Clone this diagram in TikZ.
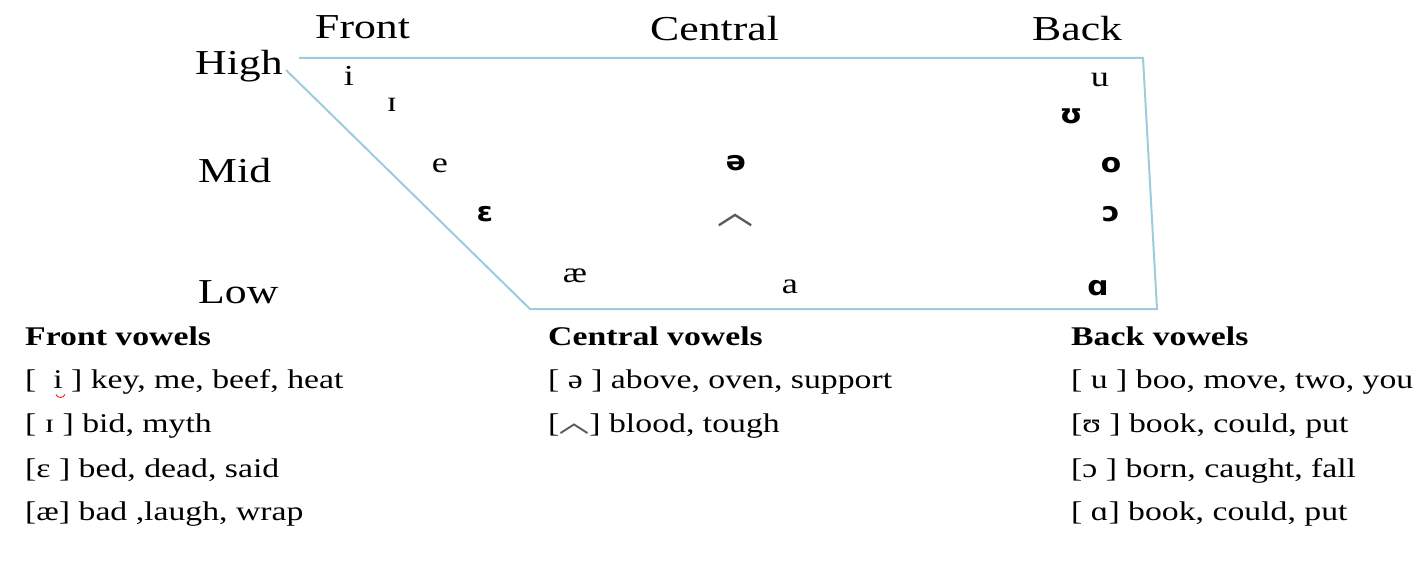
\documentclass[tikz,border=0pt]{standalone}
\usepackage{fontspec}
\setmainfont{Liberation Serif}[FakeStretch=1.25]
\newfontfamily\ipasans{DejaVu Sans}[FakeStretch=1.1]
\newfontfamily\cjk{Noto Sans CJK SC}
\definecolor{chartline}{RGB}{155,205,220}
\definecolor{caretgray}{RGB}{90,90,90}
\tikzset{
  lbl/.style={anchor=base west, inner sep=0pt, font=\fontsize{35}{40}\selectfont},
  vs/.style={anchor=base, inner sep=0pt, font=\fontsize{29}{32}\selectfont},
  vb/.style={anchor=base, inner sep=0pt, font=\ipasans\bfseries\fontsize{27}{30}\selectfont},
  head/.style={anchor=base west, inner sep=0pt, font=\bfseries\fontsize{27}{32}\selectfont},
  row/.style={anchor=base west, inner sep=0pt, font=\fontsize{27}{32}\selectfont},
  chart/.style={draw=chartline, line width=2pt, line join=miter},
}
\newcommand{\caretsym}[1]{{\cjk\color{caretgray}\fontsize{#1}{#1}\selectfont ︿}}
\begin{document}
\begin{tikzpicture}[x=1pt,y=-1pt]
\useasboundingbox (0,0) rectangle (1427,564);
% chart outline
\coordinate (tl) at (299,58);
\coordinate (tr) at (1143,58);
\coordinate (br) at (1157,309);
\coordinate (bl) at (530,309);
\coordinate (hl) at (286,70);
\draw[chart] (tl) -- (tr) -- (br) -- (bl) -- (hl);
% axis labels
\node[lbl] (front) at (315,39) {Front};
\node[lbl] (central) at (650,41) {Central};
\node[lbl] (back) at (1032,41) {Back};
\node[lbl] (high) at (195,75) {High};
\node[lbl] (mid) at (198,183) {Mid};
\node[lbl] (low) at (198,303) {Low};
% vowels
\node[vs] (vi) at (349,86) {i};
\node[vs] (vI) at (392,112) {ɪ};
\node[vs] (ve) at (440,173) {e};
\node[vb] (veps) at (485,222) {ɛ};
\node[vs] (vae) at (575,282) {æ};
\node[vb] (vschwa) at (736,171) {ə};
\node[inner sep=0pt] (vcaret) at (735,220) {\caretsym{36}};
\node[vs] (va) at (790,293) {a};
\node[vs] (vu) at (1100,87) {u};
\node[vb] (vup) at (1071,124) {ʊ};
\node[vb] (vo) at (1111,173) {o};
\node[vb] (vopen) at (1111,222) {ɔ};
\node[vb] (valpha) at (1098,295) {ɑ};
% legend: front
\node[head] (fh) at (25,345) {Front vowels};
\node[row] (f1) at (25,388) {[\ \ i ] key, me, beef, heat};
\draw[red, line width=0.8pt] (fh.south west) ++(31,49) .. controls +(1,4) and +(-1,4) .. ++(9,0);
\node[row] (f2) at (25,432) {[ ɪ ] bid, myth};
\node[row] (f3) at (25,477) {[ε ] bed, dead, said};
\node[row] (f4) at (25,520) {[æ] bad ,laugh, wrap};
% legend: central
\node[head] (ch) at (548,345) {Central vowels};
\node[row] (c1) at (548,388) {[ ə ] above, oven, support};
\node[row] (c2) at (548,432) {[\caretsym{30}] blood, tough};
% legend: back
\node[head] (bh) at (1071,345) {Back vowels};
\node[row] (b1) at (1071,388) {[ u ] boo, move, two, you};
\node[row] (b2) at (1071,432) {[ʊ ] book, could, put};
\node[row] (b3) at (1071,477) {[ɔ ] born, caught, fall};
\node[row] (b4) at (1071,520) {[ ɑ] book, could, put};
\end{tikzpicture}
\end{document}
